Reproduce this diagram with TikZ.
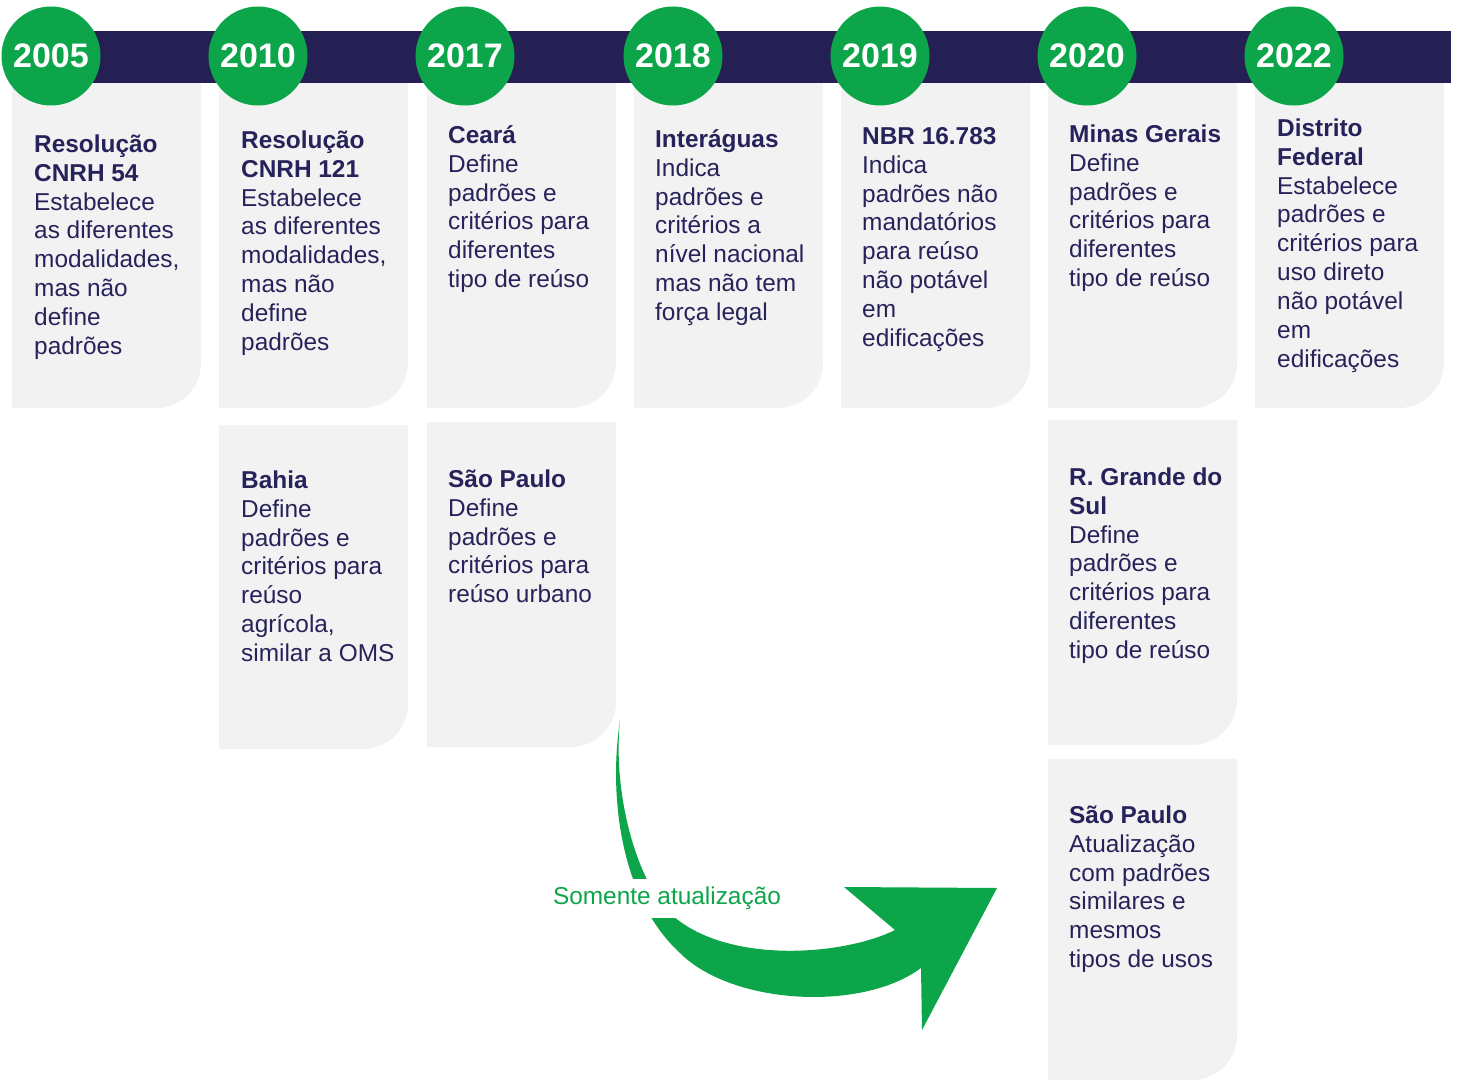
\documentclass[tikz,border=0pt]{standalone}
\usepackage{fontspec}
\setmainfont{Liberation Sans}
\definecolor{navy}{HTML}{242054}
\definecolor{navytext}{HTML}{27235A}
\definecolor{ggreen}{HTML}{0DA54A}
\definecolor{cardgray}{HTML}{F2F2F2}
\newcommand\cardbox[3]{\fill[cardgray] (#1,#2) -- ({#1+189},#2) -- ({#1+189},{#3-45}) .. controls ({#1+189},{#3-20.1}) and ({#1+189-20.1},#3) .. ({#1+189-45},#3) -- (#1,#3) -- cycle;}
\newcommand\fl{\rule{0pt}{24pt}}
\begin{document}
\begin{tikzpicture}[x=1pt,y=-1pt,
  yearc/.style={circle, fill=ggreen, minimum size=99pt, inner sep=0pt, text=white, font=\fontsize{34}{38}\selectfont\bfseries},
  body/.style={anchor=north west, inner sep=0pt, align=left, text=navytext, font=\fontsize{24.4}{28.9}\selectfont},
  lbl/.style={fill=white, inner xsep=0pt, inner ysep=0pt, minimum height=39pt, text=ggreen, font=\fontsize{24.4}{28.9}\selectfont}
]
\useasboundingbox (0,0) rectangle (1459,1081);
% cards top row
\cardbox{12}{83}{408}
\cardbox{219}{83}{408}
\cardbox{427}{83}{408}
\cardbox{634}{83}{408}
\cardbox{841}{83}{408}
\cardbox{1048}{83}{408}
\cardbox{1255}{83}{408}
% second row
\cardbox{219}{425}{749}
\cardbox{427}{422}{747}
\cardbox{1048}{420}{745}
\cardbox{1048}{759}{1080}
% bar
\fill[navy] (51,31) rectangle (1451,83);
% year circles
\node[yearc] (y2005) at (51,56) {2005};
\node[yearc] (y2010) at (258,56) {2010};
\node[yearc] (y2017) at (465,56) {2017};
\node[yearc] (y2018) at (673,56) {2018};
\node[yearc] (y2019) at (880,56) {2019};
\node[yearc] (y2020) at (1087,56) {2020};
\node[yearc] (y2022) at (1294,56) {2022};
% texts
\node[body] (t2005) at (34,128) {\fl\textbf{Resolução}\\\textbf{CNRH 54}\\Estabelece\\as diferentes\\modalidades,\\mas não\\define\\padrões};
\node[body] (t2010) at (241,124) {\fl\textbf{Resolução}\\\textbf{CNRH 121}\\Estabelece\\as diferentes\\modalidades,\\mas não\\define\\padrões};
\node[body] (t2017) at (448,119) {\fl\textbf{Ceará}\\Define\\padrões e\\critérios para\\diferentes\\tipo de reúso};
\node[body] (t2018) at (655,123) {\fl\textbf{Interáguas}\\Indica\\padrões e\\critérios a\\nível nacional\\mas não tem\\força legal};
\node[body] (t2019) at (862,120) {\fl\textbf{NBR 16.783}\\Indica\\padrões não\\mandatórios\\para reúso\\não potável\\em\\edificações};
\node[body] (t2020) at (1069,118) {\fl\textbf{Minas Gerais}\\Define\\padrões e\\critérios para\\diferentes\\tipo de reúso};
\node[body] (t2022) at (1277,112) {\fl\textbf{Distrito}\\\textbf{Federal}\\Estabelece\\padrões e\\critérios para\\uso direto\\não potável\\em\\edificações};
\node[body] (tbahia) at (241,464) {\fl\textbf{Bahia}\\Define\\padrões e\\critérios para\\reúso\\agrícola,\\similar a OMS};
\node[body] (tsp1) at (448,463) {\fl\textbf{São Paulo}\\Define\\padrões e\\critérios para\\reúso urbano};
\node[body] (trgs) at (1069,461) {\fl\textbf{R. Grande do}\\\textbf{Sul}\\Define\\padrões e\\critérios para\\diferentes\\tipo de reúso};
\node[body] (tsp2) at (1069,799) {\fl\textbf{São Paulo}\\Atualização\\com padrões\\similares e\\mesmos\\tipos de usos};
% curved arrow
\coordinate (astart) at (620,720);
\coordinate (atip) at (997,888);
\fill[ggreen] (astart) .. controls (608,800) and (622,900) .. (680,953)
  .. controls (732,1005) and (862,1012) .. (921,968)
  -- (922,1030) -- (atip) -- (844,887) -- (895,930)
  .. controls (845,955) and (730,965) .. (673,916)
  .. controls (640,888) and (612,800) .. (astart) -- cycle;
\node[lbl] (upd) at (667,898) {Somente atualização};
\end{tikzpicture}
\end{document}
